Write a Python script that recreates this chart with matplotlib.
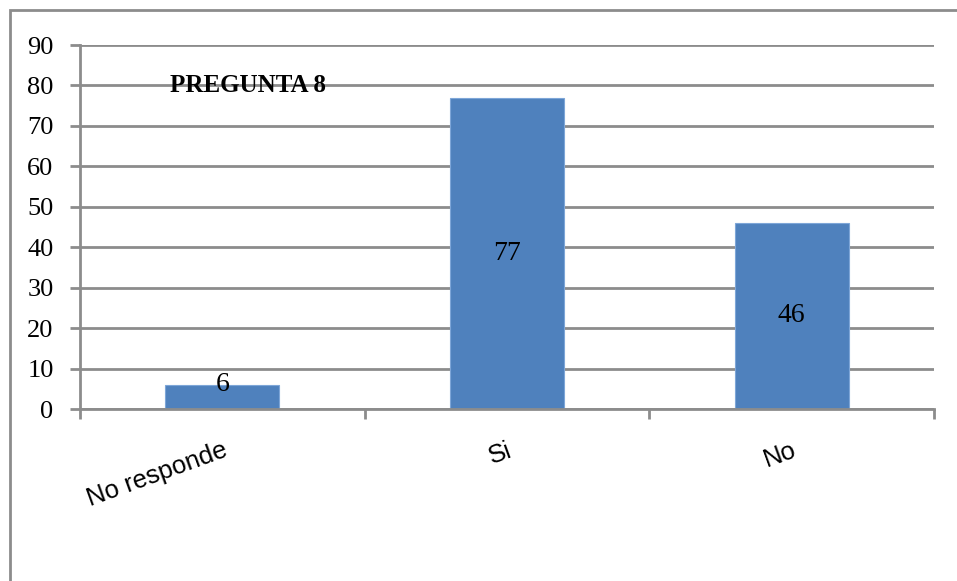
import matplotlib.pyplot as plt
from matplotlib.patches import Rectangle
import numpy as np

categorias = ["No responde", "Si", "No"]
valores = [6, 77, 46]
titulo = "PREGUNTA 8"

fig = plt.figure(figsize=(9.57, 5.81), dpi=100)
W, H = 957, 581
ax = fig.add_axes([80 / W, 1 - 409 / H, (934 - 80) / W, (409 - 45) / H])

# outer frame of the chart area
fig.patches.append(Rectangle((10 / W, -0.1), 1.2, 1 - 10 / H + 0.1,
                             transform=fig.transFigure, fill=False,
                             edgecolor='#8c8c8c', linewidth=2))

x = np.arange(len(categorias))
ax.bar(x, valores, width=0.4, color='#4f81bd', edgecolor='#7ea6d8',
       linewidth=0.8, zorder=3)

ax.set_xlim(-0.5, len(categorias) - 0.5)
ax.set_ylim(0, 90)
ax.set_yticks(np.arange(0, 91, 10))
ax.yaxis.grid(True, color='#8c8c8c', linewidth=2)
ax.set_axisbelow(True)

for s in ['top', 'right']:
    ax.spines[s].set_visible(False)
for s in ['left', 'bottom']:
    ax.spines[s].set_color('#8c8c8c')
    ax.spines[s].set_linewidth(2)
    ax.spines[s].set_zorder(4)

ax.tick_params(axis='y', length=7, width=2, color='#8c8c8c', pad=12,
               labelsize=19)
for lab in ax.get_yticklabels():
    lab.set_fontfamily('Liberation Serif')

# ticks between categories
ax.set_xticks(np.arange(len(categorias) + 1) - 0.5)
ax.set_xticklabels([])
ax.tick_params(axis='x', length=7, width=2, color='#8c8c8c')

for i, c in enumerate(categorias):
    ax.annotate(c, xy=(i, 0), xycoords=('data', 'axes fraction'),
                xytext=(0, -21), textcoords='offset points',
                ha='right', va='top', rotation=20, rotation_mode='anchor',
                fontsize=18.5, fontfamily='Liberation Sans')

for i, v in enumerate(valores):
    ypos = v / 2 if v > 20 else v
    ax.text(i, ypos, str(v), ha='center', va='center', fontsize=20,
            fontfamily='Liberation Serif', zorder=5)

ax.text((170 - 80) / 854, 80, titulo, ha='left', va='center', fontsize=18,
        fontweight='bold', fontfamily='Liberation Serif',
        transform=ax.get_yaxis_transform(), zorder=5)

fig.savefig('out.png', dpi=100)
